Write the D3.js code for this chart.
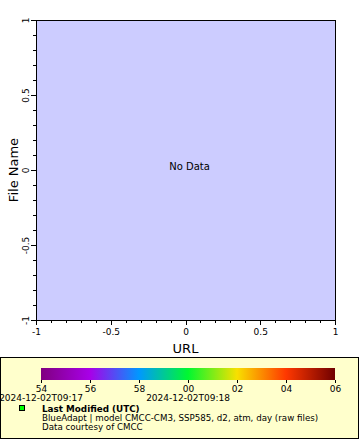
<!DOCTYPE html>
<html>
<head>
<meta charset="utf-8">
<script src="https://cdn.jsdelivr.net/npm/d3@7"></script>
<style>
  body { margin: 0; background: #fff; }
  svg { display: block; font-family: "DejaVu Sans", sans-serif; }
</style>
</head>
<body>
<div id="app"></div>
<script>
// axis ticks of the empty map
const xTicks = [-1, -0.5, 0, 0.5, 1]
const yTicks = [-1, -0.5, 0, 0.5, 1]
const minorStep = 0.1

// colour bar
const barLabels = ["54", "56", "58", "00", "02", "04", "06"]
const barColors = ["#800080", "#a800e8", "#0098ff", "#00f830", "#f8e000", "#ff3800", "#700000"]
const timeLabels = ["2024-12-02T09:17", "2024-12-02T09:18"]
const timePos = [0, 3] // index into barLabels

const legendTitle = "Last Modified (UTC)"
const legendLines = [
    "BlueAdapt | model CMCC-CM3, SSP585, d2, atm, day (raw files)",
    "Data courtesy of CMCC"
]

const W = 360, H = 440
const plot = { left: 36, top: 20, right: 335, bottom: 320 }

const svg = d3.select('#app')
    .append('svg')
    .attr('width', W)
    .attr('height', H)

const xScale = d3.scaleLinear().domain([-1, 1]).range([plot.left, plot.right])
const yScale = d3.scaleLinear().domain([-1, 1]).range([plot.bottom, plot.top])
const plain = d => String(d) // keep ascii hyphen like the original

svg.append('rect')
    .attr('x', plot.left)
    .attr('y', plot.top)
    .attr('width', plot.right - plot.left)
    .attr('height', plot.bottom - plot.top)
    .attr('fill', '#ccccff')
    .attr('stroke', '#000')
    .attr('stroke-width', 1)
    .attr('shape-rendering', 'crispEdges')

const minor = d3.range(-1, 1.0001, minorStep)

// minor ticks
svg.append('g')
    .attr('transform', `translate(0,${plot.bottom})`)
    .call(d3.axisBottom(xScale).tickValues(minor).tickSize(3).tickFormat(''))
    .call(g => g.select('.domain').remove())
svg.append('g')
    .attr('transform', `translate(${plot.left},0)`)
    .call(d3.axisLeft(yScale).tickValues(minor).tickSize(3).tickFormat(''))
    .call(g => g.select('.domain').remove())

// major ticks
const xAxis = svg.append('g')
    .attr('transform', `translate(0,${plot.bottom})`)
    .call(d3.axisBottom(xScale).tickValues(xTicks).tickSize(5).tickPadding(4).tickFormat(plain))
xAxis.select('.domain').remove()
xAxis.selectAll('text').attr('font-size', 9).attr('font-family', '"DejaVu Sans", sans-serif')

const yAxis = svg.append('g')
    .attr('transform', `translate(${plot.left},0)`)
    .call(d3.axisLeft(yScale).tickValues(yTicks).tickSize(5).tickFormat(plain))
yAxis.select('.domain').remove()
yAxis.selectAll('text')
    .attr('font-size', 9)
    .attr('font-family', '"DejaVu Sans", sans-serif')
    .attr('x', null).attr('dy', null)
    .attr('text-anchor', 'middle')
    .attr('transform', 'translate(-7,0) rotate(-90)')

svg.selectAll('.tick line').attr('shape-rendering', 'crispEdges')

svg.append('text')
    .attr('x', xScale(0) + 4)
    .attr('y', 170)
    .attr('text-anchor', 'middle')
    .attr('font-size', 10)
    .text('No Data')

svg.append('text')
    .attr('x', (plot.left + plot.right) / 2)
    .attr('y', 353)
    .attr('text-anchor', 'middle')
    .attr('font-size', 13)
    .text('URL')

svg.append('text')
    .attr('transform', `translate(18,${(plot.top + plot.bottom) / 2}) rotate(-90)`)
    .attr('text-anchor', 'middle')
    .attr('font-size', 13)
    .text('File Name')

// legend panel
svg.append('rect')
    .attr('x', 0.5).attr('y', 357.5)
    .attr('width', 358).attr('height', 81)
    .attr('fill', '#ffffcc')
    .attr('stroke', '#000')

const barScale = d3.scalePoint().domain(barLabels).range([41, 335])
const defs = svg.append('defs')
const grad = defs.append('linearGradient').attr('id', 'pal')
grad.selectAll('stop')
    .data(barColors)
    .enter()
    .append('stop')
    .attr('offset', (d, i) => (i / (barColors.length - 1)) * 100 + '%')
    .attr('stop-color', d => d)

svg.append('rect')
    .attr('x', barScale(barLabels[0]))
    .attr('y', 368)
    .attr('width', barScale(barLabels[barLabels.length - 1]) - barScale(barLabels[0]))
    .attr('height', 12)
    .attr('fill', 'url(#pal)')

const barAxis = svg.append('g')
    .attr('transform', 'translate(0,380)')
    .call(d3.axisBottom(barScale).tickSize(3).tickPadding(3))
barAxis.select('.domain').remove()
barAxis.selectAll('text').attr('font-size', 9).attr('font-family', '"DejaVu Sans", sans-serif')
barAxis.selectAll('line').attr('shape-rendering', 'crispEdges')

svg.selectAll('.time')
    .data(timeLabels)
    .enter()
    .append('text')
    .attr('class', 'time')
    .attr('x', (d, i) => barScale(barLabels[timePos[i]]))
    .attr('y', 401)
    .attr('text-anchor', 'middle')
    .attr('font-size', 9)
    .text(d => d)

svg.append('rect')
    .attr('x', 19.5).attr('y', 405.5)
    .attr('width', 5).attr('height', 5)
    .attr('fill', '#00ff00')
    .attr('stroke', '#000')

svg.append('text')
    .attr('x', 42).attr('y', 412)
    .attr('font-size', 8.8)
    .attr('font-weight', 'bold')
    .text(legendTitle)

svg.selectAll('.line')
    .data(legendLines)
    .enter()
    .append('text')
    .attr('class', 'line')
    .attr('x', 42)
    .attr('y', (d, i) => 421 + i * 8.5)
    .attr('font-size', 8.7)
    .text(d => d)
</script>
</body>
</html>
